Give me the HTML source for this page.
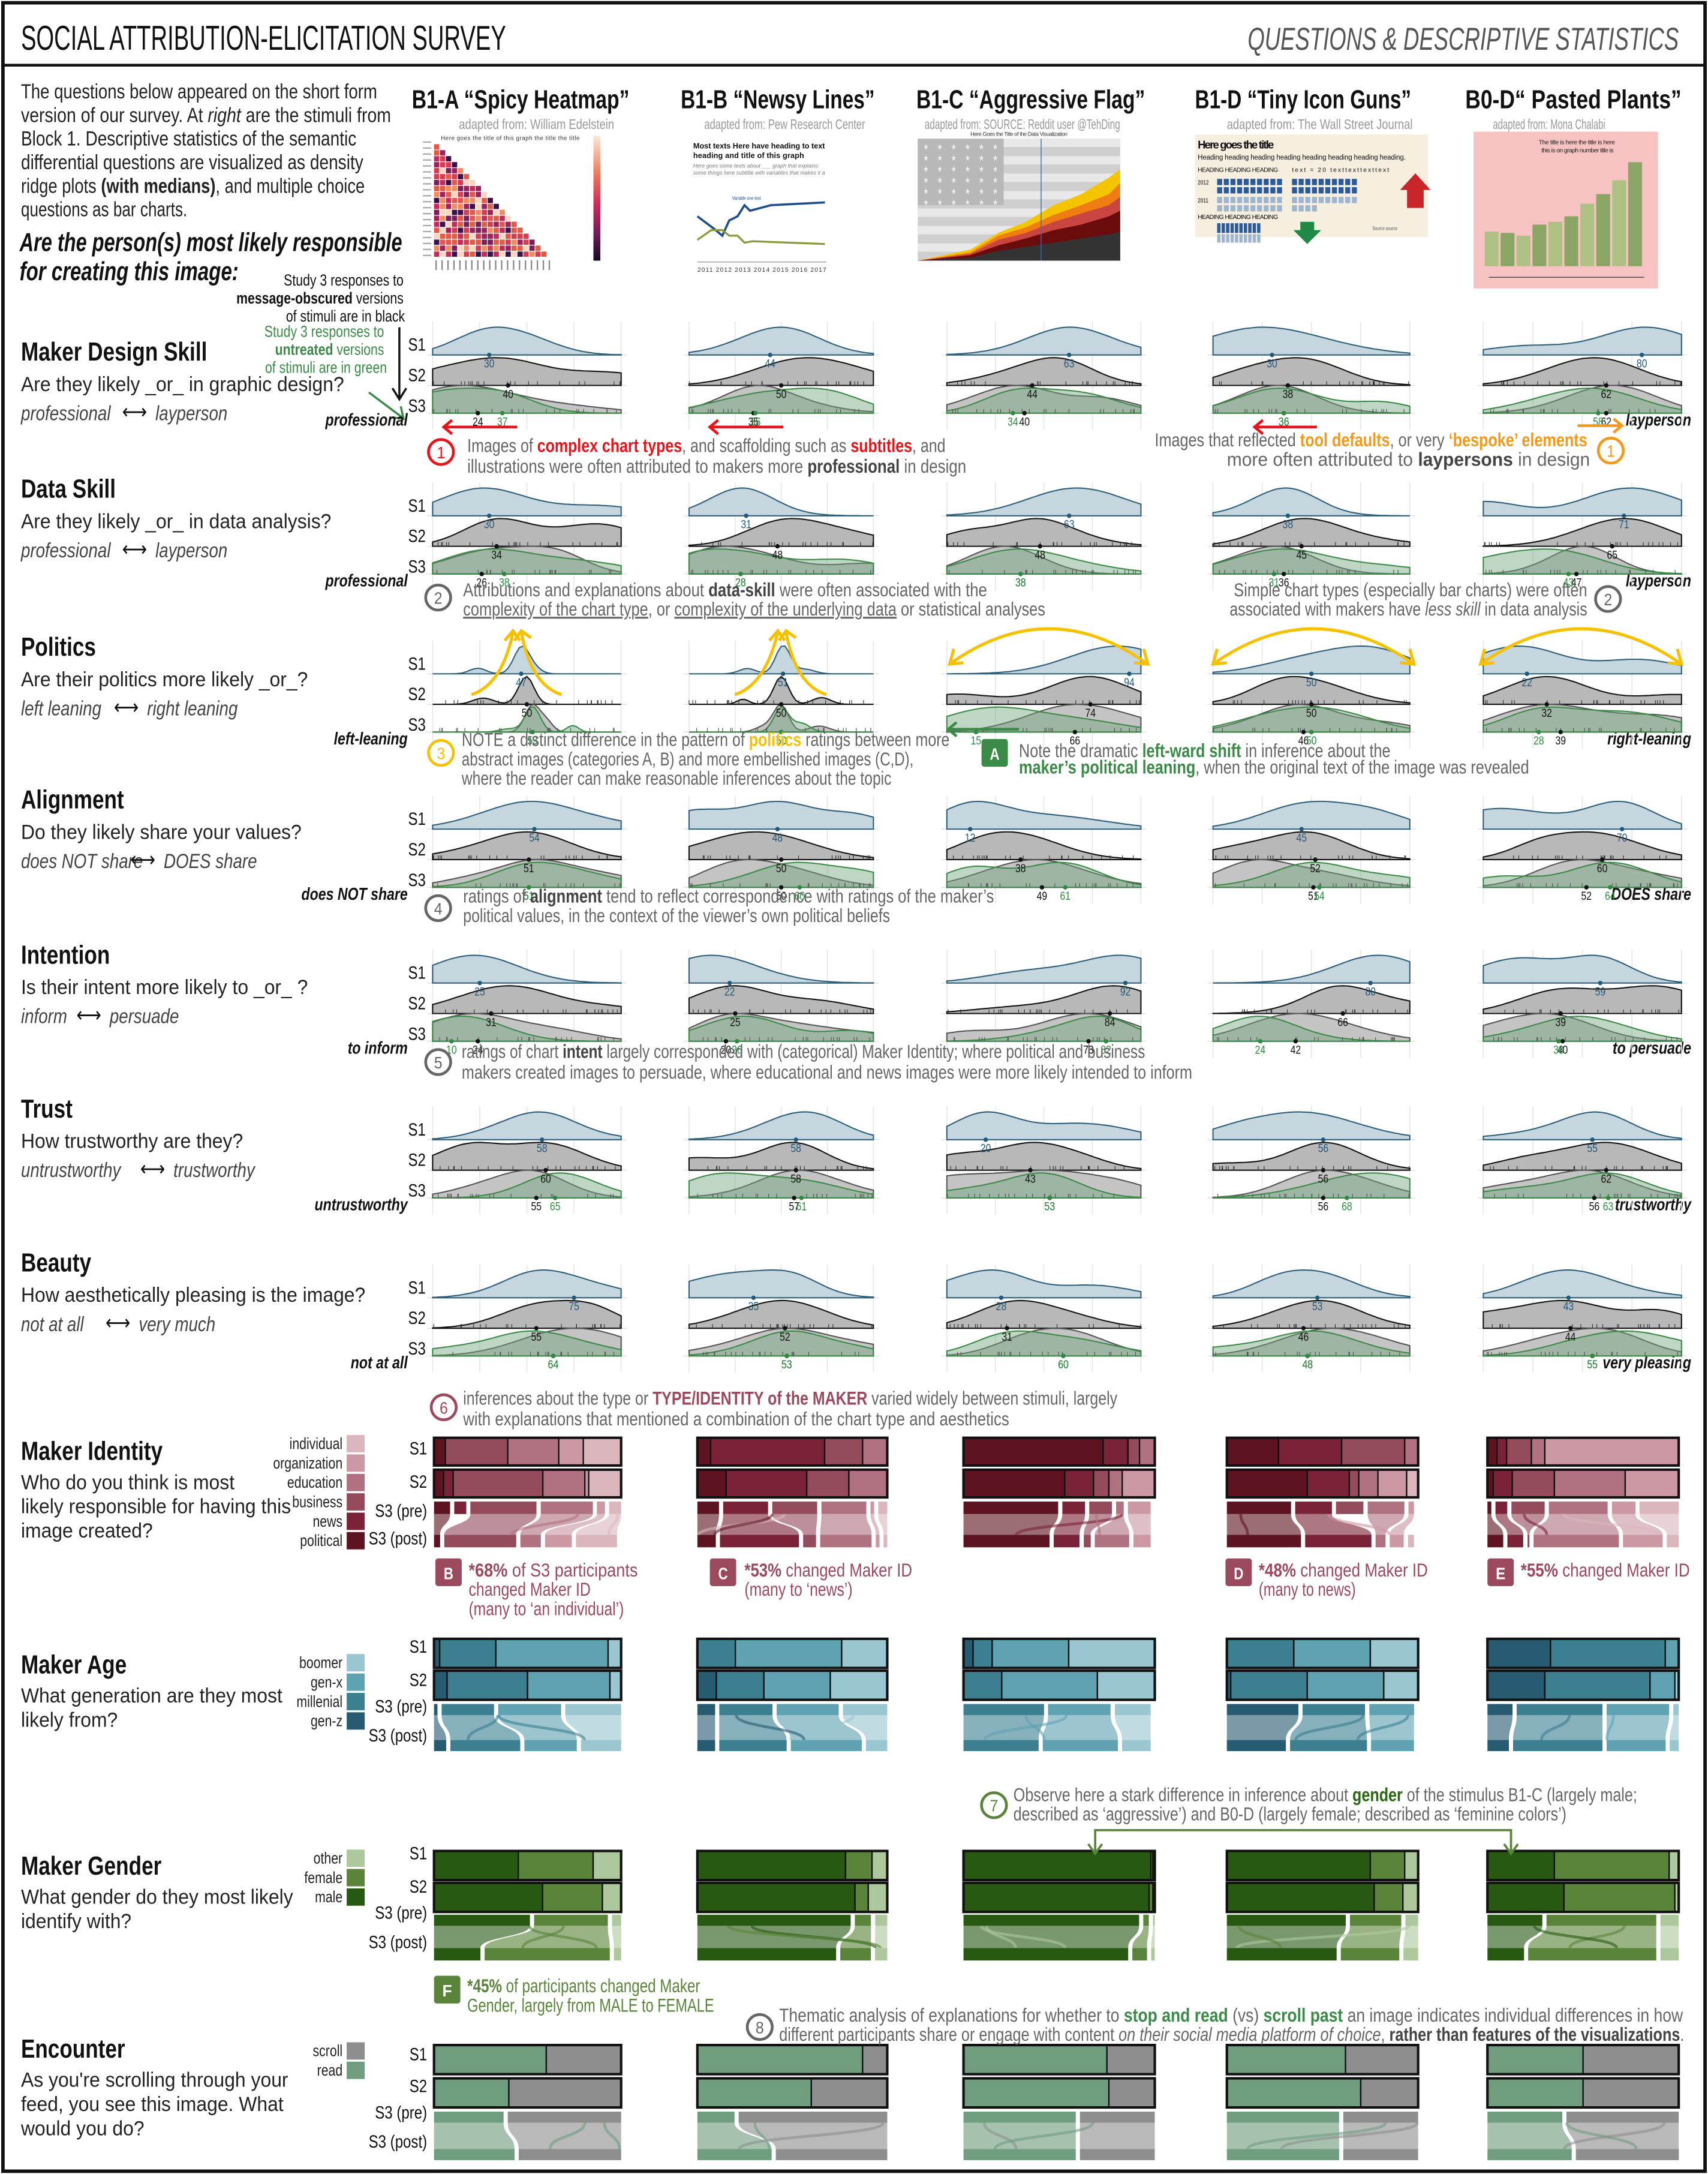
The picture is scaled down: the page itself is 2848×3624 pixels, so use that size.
<!DOCTYPE html>
<html><head><meta charset="utf-8">
<style>
html,body{margin:0;padding:0;background:#fff;}
svg{display:block;}
text{font-family:"Liberation Sans Narrow","Liberation Sans","DejaVu Sans Condensed",sans-serif;}
</style></head>
<body>
<svg id="s" xmlns="http://www.w3.org/2000/svg" width="2848" height="3624" viewBox="0 0 1232 1568">
<rect x="0" y="0" width="1232" height="1568" fill="#fff"/>
<rect x="2" y="2" width="1228" height="1564" fill="none" stroke="#111" stroke-width="2.5"/>
<line x1="2" y1="47" x2="1230" y2="47" stroke="#111" stroke-width="2"/>
<text x="15" y="36" font-size="25" fill="#111" textLength="350" lengthAdjust="spacingAndGlyphs">SOCIAL ATTRIBUTION-ELICITATION SURVEY</text>
<text x="900" y="36" font-size="23" font-style="italic" fill="#555" textLength="311" lengthAdjust="spacingAndGlyphs">QUESTIONS &amp; DESCRIPTIVE STATISTICS</text>

<g font-size="15" fill="#222">
<text x="15" y="71" textLength="257" lengthAdjust="spacingAndGlyphs">The questions below appeared on the short form</text>
<text x="15" y="88" textLength="267" lengthAdjust="spacingAndGlyphs">version of our survey.  At <tspan font-style="italic">right</tspan> are the stimuli from</text>
<text x="15" y="105" textLength="242" lengthAdjust="spacingAndGlyphs">Block 1.  Descriptive statistics of the semantic</text>
<text x="15" y="122" textLength="247" lengthAdjust="spacingAndGlyphs">differential questions are visualized as density</text>
<text x="15" y="139" textLength="248" lengthAdjust="spacingAndGlyphs">ridge plots <tspan font-weight="bold">(with medians)</tspan>, and multiple choice</text>
<text x="15" y="156" textLength="120" lengthAdjust="spacingAndGlyphs">questions as bar charts.</text>
</g>
<g font-size="19" font-weight="bold" font-style="italic" fill="#111">
<text x="14" y="181" textLength="276" lengthAdjust="spacingAndGlyphs">Are the person(s) most likely responsible</text>
<text x="14" y="202" textLength="158" lengthAdjust="spacingAndGlyphs">for creating this image:</text>
</g>

<g font-size="19" font-weight="bold" fill="#111">
<text x="297" y="78" textLength="157" lengthAdjust="spacingAndGlyphs">B1-A “Spicy Heatmap”</text>
<text x="491" y="78" textLength="140" lengthAdjust="spacingAndGlyphs">B1-B “Newsy Lines”</text>
<text x="661" y="78" textLength="165" lengthAdjust="spacingAndGlyphs">B1-C “Aggressive Flag”</text>
<text x="862" y="78" textLength="156" lengthAdjust="spacingAndGlyphs">B1-D “Tiny Icon Guns”</text>
<text x="1057" y="78" textLength="156" lengthAdjust="spacingAndGlyphs">B0-D“ Pasted Plants”</text>
</g>
<g font-size="10" fill="#999">
<text x="331" y="93" textLength="112" lengthAdjust="spacingAndGlyphs">adapted from: William Edelstein</text>
<text x="508" y="93" textLength="116" lengthAdjust="spacingAndGlyphs">adapted from: Pew Research Center</text>
<text x="667" y="93" textLength="141" lengthAdjust="spacingAndGlyphs">adapted from: SOURCE: Reddit user @TehDing</text>
<text x="885" y="93" textLength="134" lengthAdjust="spacingAndGlyphs">adapted from: The Wall Street Journal</text>
<text x="1077" y="93" textLength="81" lengthAdjust="spacingAndGlyphs">adapted from: Mona Chalabi</text>
</g>

<g id="thumbs"></g>

<g font-size="11.5" fill="#111" text-anchor="end">
<text x="291" y="206">Study 3 responses to</text>
<text x="291" y="219"><tspan font-weight="bold">message-obscured</tspan> versions</text>
<text x="292" y="232">of stimuli are in black</text>
</g>
<g font-size="11.5" fill="#3b8a47" text-anchor="end">
<text x="277" y="243">Study 3 responses to</text>
<text x="277" y="256"><tspan font-weight="bold">untreated</tspan> versions</text>
<text x="279" y="269">of stimuli are in green</text>
</g>
<path d="M288,236 V287 M283,280 L288,288 L293,280" stroke="#111" stroke-width="1.5" fill="none"/>
<path d="M266,283 L290,301 M282,301 L291,302 L289,293" stroke="#3b8a47" stroke-width="1.5" fill="none"/>

<g id="sections"></g>
<g id="ridges"></g>
<g id="bars"></g>
<g id="annot"></g>
</svg>
<script>
(function(){
function add(id,html){document.getElementById(id).insertAdjacentHTML('beforeend',html);}
var seed=7;function rnd(){seed=(seed*16807)%2147483647;return (seed-1)/2147483646;}
var th='';
var pal=['#e8534a','#c42a5b','#a01f5d','#f28a5b','#3b0f4a','#f7d5bf','#d83b50','#7a1d5a','#e35a45'];
th+='<text x="318" y="101" font-size="4.2" fill="#333" textLength="100">Here goes the title of this graph the title the title</text>';
var cs=4.3,ox=313,oy=104;
for(var r=0;r<19;r++){for(var c=0;c<=r;c++){th+='<rect x="'+(ox+c*cs)+'" y="'+(oy+r*cs)+'" width="'+(cs-0.5)+'" height="'+(cs-0.5)+'" fill="'+pal[Math.floor(rnd()*pal.length)]+'"/>';}}
th+='<defs><linearGradient id="cb" x1="0" y1="0" x2="0" y2="1"><stop offset="0" stop-color="#fae8dc"/><stop offset=".3" stop-color="#f07a55"/><stop offset=".55" stop-color="#cf2a5a"/><stop offset=".8" stop-color="#6b1a5c"/><stop offset="1" stop-color="#120a1e"/></linearGradient></defs>';
th+='<rect x="428" y="98" width="5" height="90" fill="url(#cb)"/>';
for(var i=0;i<20;i++){th+='<rect x="'+(ox+i*cs+1)+'" y="'+(oy+19*cs+2)+'" width="1" height="7" fill="#888"/>';th+='<rect x="'+(ox-8)+'" y="'+(oy-3+i*cs+1)+'" width="6" height="1" fill="#aaa"/>';}
th+='<text x="500" y="107" font-size="5.5" font-weight="bold" fill="#111" textLength="95">Most texts Here have heading to text</text><text x="500" y="114" font-size="5.5" font-weight="bold" fill="#111" textLength="80">heading and title of this graph</text>';
th+='<text x="500" y="121" font-size="3.8" font-style="italic" fill="#777" textLength="90">Here goes some texts about ___ graph that explains</text><text x="500" y="126" font-size="3.8" font-style="italic" fill="#777" textLength="95">some things here subtitle with variables that makes it a</text>';
th+='<text x="528" y="144" font-size="3.5" fill="#1f4e8a">Variable one text</text>';
th+='<polyline points="503,156 515,165 521,170 526,159 532,156 537,148 541,152 556,148 595,146" fill="none" stroke="#1f4e8a" stroke-width="1.6"/>';
th+='<polyline points="503,173 513,166 521,166 526,170 532,170 537,175 543,174 595,176" fill="none" stroke="#8a9a3b" stroke-width="1.4"/>';
th+='<line x1="503" y1="189" x2="596" y2="189" stroke="#999" stroke-width=".6"/>';
th+='<text x="503" y="196" font-size="4.5" fill="#333" textLength="93">2011 2012 2013 2014 2015 2016 2017</text>';
th+='<rect x="662" y="100" width="146" height="88" fill="#cfcfcf"/>';
for(var i=0;i<7;i++){th+='<rect x="662" y="'+(100+i*12.6)+'" width="146" height="6" fill="#e8e8e8"/>';}
th+='<rect x="662" y="100" width="62" height="48" fill="#b8b8b8"/>';
for(var r=0;r<6;r++)for(var c=0;c<6;c++)th+='<text x="'+(666+c*10)+'" y="'+(108+r*8)+'" font-size="6" fill="#eee">★</text>';
th+='<path d="M662,188 L700,180 L720,168 L740,160 L760,148 L780,140 L800,128 L808,122 L808,188Z" fill="#f5c400"/>';
th+='<path d="M662,188 L700,182 L720,170 L740,164 L760,155 L780,148 L800,140 L808,132 L808,188Z" fill="#ef7d14"/>';
th+='<path d="M662,188 L700,183 L720,173 L740,168 L760,160 L780,154 L800,148 L808,142 L808,188Z" fill="#c9453f"/>';
th+='<path d="M662,188 L700,184 L720,177 L740,172 L760,166 L780,162 L800,156 L808,152 L808,188Z" fill="#6b0c0c"/>';
th+='<path d="M662,188 L700,186 L720,181 L740,178 L760,175 L780,172 L800,169 L808,167 L808,188Z" fill="#333"/>';
th+='<line x1="751" y1="100" x2="751" y2="188" stroke="#3a6ab0" stroke-width=".6"/>';
th+='<text x="700" y="98" font-size="4" fill="#333" textLength="70">Here Goes the Title of the Data Visualization</text>';
th+='<rect x="862" y="97" width="168" height="74" fill="#f6efe0"/>';
th+='<text x="864" y="107" font-size="8" font-weight="bold" fill="#111" textLength="55">Here goes the title</text>';
th+='<text x="864" y="115" font-size="5" fill="#111" textLength="150">Heading heading heading heading heading heading heading heading.</text>';
th+='<text x="864" y="124" font-size="4.5" fill="#111" textLength="58">HEADING HEADING HEADING</text><text x="932" y="124" font-size="4.5" fill="#111" textLength="70">text    = 20 texttexttexttext</text>';
for(var k=0;k<4;k++){var yy=[129,135,142,148][k];var col=k<2?'#2a5a9a':'#9eb5cf';for(var j=0;j<10;j++){th+='<rect x="'+(878+j*4.8)+'" y="'+yy+'" width="3.6" height="4.5" fill="'+col+'"/>';if(!(k==3&&j>3))th+='<rect x="'+(932+j*4.8)+'" y="'+yy+'" width="3.6" height="4.5" fill="'+col+'"/>';}}
th+='<text x="864" y="133" font-size="4.5">2012</text><text x="864" y="146" font-size="4.5">2011</text>';
th+='<path d="M1015,150 V137 H1010 L1021,125 L1032,137 H1027 V150Z" fill="#c8262a"/>';
th+='<text x="864" y="158" font-size="4.5" textLength="58">HEADING HEADING HEADING</text>';
for(var j=0;j<10;j++){th+='<rect x="'+(878+j*3.2)+'" y="161" width="2.4" height="7" fill="#2a5a9a"/>';th+='<rect x="'+(878+j*3.2)+'" y="169" width="2.4" height="6" fill="#9eb5cf"/>';}
th+='<path d="M938,160 V166 H933 L943,176 L953,166 H948 V160Z" fill="#1f8a45"/>';
th+='<text x="990" y="166" font-size="3.5" fill="#555">Source source</text>';
th+='<rect x="1063" y="95" width="133" height="113" fill="#f6c2c2"/>';
th+='<text x="1110" y="104" font-size="4.5" fill="#222" textLength="55">The title is here the title is here</text><text x="1112" y="110" font-size="4.5" fill="#222" textLength="52">this is on graph number title is</text>';
var hs=[25,24,22,30,32,36,45,52,62,75];
for(var i=0;i<10;i++){var h=hs[i];th+='<rect x="'+(1071+i*11.5)+'" y="'+(192-h)+'" width="10" height="'+h+'" fill="'+(i%2?'#7ea25a':'#a6c17c')+'" opacity=".9"/>';}
th+='<line x1="1074" y1="200" x2="1186" y2="200" stroke="#333" stroke-width=".5"/>';
add('thumbs',th);

var F='';
function secTitle(y,t,q,pair){
 var s='<text x="15" y="'+y+'" font-size="19" font-weight="bold" fill="#111">'+t+'</text>';
 s+='<text class="q" x="15" y="'+(y+22)+'" font-size="15" fill="#222">'+q+'</text>';
 s+='<text x="15" y="'+(y+43)+'" font-size="15" font-style="italic" fill="#444">'+pair[0]+'</text>';
 s+='<text x="'+(15+pair[2])+'" y="'+(y+42)+'" font-size="15" fill="#111" textLength="18" lengthAdjust="spacingAndGlyphs">⟷</text>';
 s+='<text x="'+(15+pair[2]+24)+'" y="'+(y+43)+'" font-size="15" font-style="italic" fill="#444">'+pair[1]+'</text>';
 return s;}
var secs=[
 [260,'Maker Design Skill','Are they likely _or_ in graphic design?',['professional','layperson',73],307,'professional','layperson'],
 [359,'Data Skill','Are they likely _or_  in data analysis?',['professional','layperson',73],423,'professional','layperson'],
 [473,'Politics','Are their politics more likely _or_?',['left leaning','right leaning',67],537,'left-leaning','right-leaning'],
 [583,'Alignment','Do they likely share your values?',['does NOT share','DOES share',79],649,'does NOT share','DOES share'],
 [695,'Intention','Is their intent more likely to _or_ ?',['inform','persuade',40],760,'to inform','to persuade'],
 [806,'Trust','How trustworthy are they?',['untrustworthy','trustworthy',86],873,'untrustworthy','trustworthy'],
 [917,'Beauty','How aesthetically pleasing is the image?',['not at all','very much',61],987,'not at all','very pleasing']];
secs.forEach(function(s){F+=secTitle(s[0],s[1],s[2],s[3]);
 F+='<text x="294" y="'+s[4]+'" text-anchor="end" font-size="12.5" font-weight="bold" font-style="italic" fill="#111">'+s[5]+'</text>';
 F+='<text x="1220" y="'+s[4]+'" text-anchor="end" font-size="12.5" font-weight="bold" font-style="italic" fill="#111">'+s[6]+'</text>';
});
function bt(y,t,lines){var s='<text x="15" y="'+y+'" font-size="19" font-weight="bold" fill="#111">'+t+'</text>';lines.forEach(function(l,i){s+='<text class="q" x="15" y="'+(y+21+i*17.5)+'" font-size="15" fill="#222">'+l+'</text>';});return s;}
F+=bt(1053,'Maker Identity',['Who do you think is most','likely responsible for having this','image created?']);
F+=bt(1207,'Maker Age',['What generation are they most','likely from?']);
F+=bt(1352,'Maker Gender',['What gender do they most likely','identify with?']);
F+=bt(1484,'Encounter',["As you're scrolling through your",'feed, you see this image.  What','would you do?']);
add('sections',F);

var cols=[[312,448],[497,630],[683,823],[875,1017],[1070,1213]];
var med={
0:[[30,40,24,37],[44,50,35,36],[63,44,40,34],[30,38,36,36],[80,62,62,58]],
1:[[30,34,26,38],[31,48,28,28],[63,48,38,38],[38,45,36,31],[71,65,47,43]],
2:[[47,50,53,53],[51,50,50,50],[94,74,66,15],[50,50,46,50],[22,32,39,28]],
3:[[54,51,51,51],[48,50,50,60],[12,38,49,61],[45,52,51,54],[70,60,52,64]],
4:[[25,31,24,10],[22,25,20,26],[92,84,73,82],[80,66,42,24],[59,39,40,38]],
5:[[58,60,55,65],[58,58,57,61],[20,43,53,53],[56,56,56,68],[55,62,56,63]],
6:[[75,55,64,64],[35,52,53,53],[28,31,60,60],[53,46,48,48],[43,44,55,55]]};
var R='';
function dens(m,narrow){var comps=[[m,narrow?4:16+rnd()*10,1]];var n=2;for(var i=0;i<n;i++)comps.push([narrow?m+(rnd()-0.5)*50:rnd()*100,narrow?3+rnd()*3:14+rnd()*12,narrow?0.12+rnd()*0.15:0.3+rnd()*0.5]);
 var v=[];for(var x=0;x<=100;x+=2){var s=0;comps.forEach(function(c){s+=c[2]*Math.exp(-Math.pow((x-c[0])/c[1],2)/2);});v.push(s);}var mx=Math.max.apply(null,v);return v.map(function(a){return a/mx;});}
function ridge(x0,x1,yb,h,m,fill,stroke,op,narrow){var v=dens(m,narrow);var d='M'+x0+','+yb;v.forEach(function(a,i){d+=' L'+(x0+(x1-x0)*i/50).toFixed(1)+','+(yb-a*h).toFixed(1);});d+=' L'+x1+','+yb+'Z';return '<path d="'+d+'" fill="'+fill+'" fill-opacity="'+op+'" stroke="'+stroke+'" stroke-width="0.9"/>';}
for(var si=0;si<7;si++){var base=secs[si][4];var ys=[base-51,base-29,base-9];
 R+='<text x="307" y="'+(ys[0]-3)+'" text-anchor="end" font-size="13" fill="#111">S1</text>';
 R+='<text x="307" y="'+(ys[1]-3)+'" text-anchor="end" font-size="13" fill="#111">S2</text>';
 R+='<text x="307" y="'+(ys[2]-1)+'" text-anchor="end" font-size="13" fill="#111">S3</text>';
 for(var ci=0;ci<5;ci++){var x0=cols[ci][0],x1=cols[ci][1],w=x1-x0,M=med[si][ci];var narrow=(si==2&&ci<2);
  for(var g=0;g<=4;g++){var gx=x0+w*g/4;R+='<line x1="'+gx+'" y1="'+(ys[0]-24)+'" x2="'+gx+'" y2="'+(ys[2]+12)+'" stroke="#e6e6e6" stroke-width=".7"/>';}
  ys.forEach(function(y){R+='<line x1="'+(x0-4)+'" y1="'+y+'" x2="'+(x1+4)+'" y2="'+y+'" stroke="#e3e3e3" stroke-width=".7"/>';});
  R+=ridge(x0,x1,ys[0],20,M[0],'#c6d6df','#2e5f7a',1,narrow);
  R+=ridge(x0,x1,ys[1],20,M[1],'#b8b8b8','#111',1,narrow);
  R+=ridge(x0,x1,ys[2],20,M[2],'#c4c4c4','#555',1,narrow);
  R+=ridge(x0,x1,ys[2],18,M[3],'#6fa37a','#3b8a47',.45,narrow);
  for(var k=0;k<22;k++){var rx=x0+w*rnd();R+='<line x1="'+rx.toFixed(1)+'" y1="'+ys[1]+'" x2="'+rx.toFixed(1)+'" y2="'+(ys[1]-3)+'" stroke="#333" stroke-width=".5"/>';var rx2=x0+w*rnd();R+='<line x1="'+rx2.toFixed(1)+'" y1="'+ys[2]+'" x2="'+rx2.toFixed(1)+'" y2="'+(ys[2]-3)+'" stroke="#555" stroke-width=".5"/>';}
  function dot(v,y,col,dy){var px=x0+w*v/100;return '<circle cx="'+px.toFixed(1)+'" cy="'+y+'" r="1.6" fill="'+col+'"/><text x="'+px.toFixed(1)+'" y="'+(y+dy)+'" text-anchor="middle" font-size="8.5" fill="'+col+'">'+v+'</text>';}
  R+=dot(M[0],ys[0],'#1f5a7a',9);R+=dot(M[1],ys[1],'#111',9);
  R+=dot(M[2],ys[2],'#111',9);R+=dot(M[3],ys[2],'#2e8a40',9);
 }}
add('ridges',R);

var B='';
var bx=[[313,448],[503,640],[695,833],[885,1023],[1073,1211]];
function legend(items,y0,sz){var s='';items.forEach(function(it,i){var y=y0+i*sz;s+='<rect x="250" y="'+y+'" width="13" height="'+(sz-1.5)+'" fill="'+it[1]+'"/><text x="247" y="'+(y+sz*0.72)+'" text-anchor="end" font-size="11.5" fill="#222">'+it[0]+'</text>';});return s;}
function rowlabels(ys){var n=['S1','S2','S3 (pre)','S3 (post)'];var s='';ys.forEach(function(y,i){s+='<text x="308" y="'+y+'" text-anchor="end" font-size="13" fill="#111">'+n[i]+'</text>';});return s;}
function sbar(x0,x1,y,h,fr,colr){var w=x1-x0,s='',x=x0;var tot=fr.reduce(function(a,b){return a+b;},0);fr.forEach(function(f,i){var ww=w*f/tot;if(ww<=0)return;s+='<rect x="'+x.toFixed(1)+'" y="'+y+'" width="'+ww.toFixed(1)+'" height="'+h+'" fill="'+colr[i]+'" stroke="#111" stroke-width="1"/>';x+=ww;});s+='<rect x="'+x0+'" y="'+y+'" width="'+w+'" height="'+h+'" fill="none" stroke="#111" stroke-width="1.8"/>';return s;}
function flow(x0,x1,y1,h1,y2,h2,pre,post,colr){var w=x1-x0,s='',gap=3;var n=pre.length;var tp=pre.reduce(function(a,b){return a+b;},0),tq=post.reduce(function(a,b){return a+b;},0);
 var avail=w-gap*(n-1);var xa=x0,xb=x0;var A=[],Bq=[];
 for(var i=0;i<n;i++){var wa=avail*pre[i]/tp,wb=avail*post[i]/tq;A.push([xa,wa]);Bq.push([xb,wb]);xa+=wa+(wa>0?gap:0);xb+=wb+(wb>0?gap:0);}
 var fy1=y1+h1,fy2=y2;
 for(var i=0;i<n;i++){if(A[i][1]<=0||Bq[i][1]<=0)continue;var a0=A[i][0],a1=a0+A[i][1],b0=Bq[i][0],b1=b0+Bq[i][1],my=(fy1+fy2)/2;
  s+='<path d="M'+a0.toFixed(1)+','+fy1+' C'+a0.toFixed(1)+','+my+' '+b0.toFixed(1)+','+my+' '+b0.toFixed(1)+','+fy2+' L'+b1.toFixed(1)+','+fy2+' C'+b1.toFixed(1)+','+my+' '+a1.toFixed(1)+','+my+' '+a1.toFixed(1)+','+fy1+'Z" fill="'+colr[i]+'" fill-opacity=".62"/>';}
 for(var k=0;k<2;k++){var p=x0+w*rnd(),q=x0+w*rnd(),my=(fy1+fy2)/2;s+='<path d="M'+p.toFixed(1)+','+fy1+' C'+p.toFixed(1)+','+my+' '+q.toFixed(1)+','+my+' '+q.toFixed(1)+','+fy2+'" stroke="'+colr[Math.floor(rnd()*n)]+'" stroke-opacity=".6" stroke-width="2" fill="none"/>';}
 for(var i=0;i<n;i++){if(A[i][1]>0)s+='<rect x="'+A[i][0].toFixed(1)+'" y="'+y1+'" width="'+A[i][1].toFixed(1)+'" height="'+h1+'" fill="'+colr[i]+'"/>';if(Bq[i][1]>0)s+='<rect x="'+Bq[i][0].toFixed(1)+'" y="'+y2+'" width="'+Bq[i][1].toFixed(1)+'" height="'+h2+'" fill="'+colr[i]+'"/>';}
 return s;}
function block(ys,colr,data){var s='';for(var c=0;c<5;c++){var d=data[c],x0=bx[c][0],x1=bx[c][1];
 s+=sbar(x0,x1,ys[0],ys[1],d[0],colr);s+=sbar(x0,x1,ys[2],ys[3],d[1],colr);s+=flow(x0,x1,ys[4],ys[5],ys[6],ys[7],d[2],d[3],colr);}return s;}
var idc=['#5e1420','#7a2338','#944b5c','#b07280','#cc98a3','#dbb7bd'];
B+=legend([['individual',idc[5]],['organization',idc[4]],['education',idc[3]],['business',idc[2]],['news',idc[1]],['political',idc[0]]],1035,14);
B+=rowlabels([1049,1073,1094,1114]);
B+=block([1037,20,1060,20,1083,9,1107,9],idc,[
 [[0.06,0,0.33,0.27,0.13,0.2],[0.05,0.05,0.47,0.22,0.02,0.17],[0.08,0.06,0.33,0.26,0.04,0.06],[0.03,0,0.35,0.1,0.13,0.2]],
 [[0.07,0.6,0.2,0.13,0,0],[0.15,0.42,0.22,0.2,0,0],[0.12,0.25,0.25,0.25,0.02,0.05],[0.1,0.43,0.07,0.28,0.02,0.02]],
 [[0.73,0.13,0.06,0.08,0,0],[0.53,0.15,0.08,0.07,0.17,0],[0.5,0.12,0.12,0.04,0.12,0],[0.5,0.15,0.04,0.2,0.1,0]],
 [[0.27,0.33,0.33,0.07,0,0],[0.42,0.22,0.05,0.1,0.15,0.06],[0.35,0.2,0.15,0.2,0.03,0],[0.37,0.33,0,0.05,0.07,0.03]],
 [[0.05,0.05,0.13,0.07,0.7,0],[0.03,0.1,0.22,0.37,0.28,0],[0.02,0.06,0.17,0.3,0.12,0.2],[0.08,0.08,0.01,0.43,0.2,0.06]]]);
var agc=['#265b72','#3b7f91','#5fa2b2','#99c6d1'];
B+=legend([['boomer',agc[3]],['gen-x',agc[2]],['millenial',agc[1]],['gen-z',agc[0]]],1193,14);
B+=rowlabels([1192,1216,1235,1256]);
B+=block([1182,21,1205,21,1229,8,1255,8],agc,[
 [[0.03,0.3,0.6,0.07],[0.07,0.43,0.44,0.06],[0.02,0.3,0.36,0.32],[0.07,0.4,0.3,0.23]],
 [[0,0.2,0.56,0.24],[0.1,0.25,0.35,0.3],[0.1,0.3,0.35,0.25],[0.1,0.38,0.4,0.12]],
 [[0.05,0.1,0.4,0.45],[0,0.2,0.5,0.3],[0,0.45,0.35,0.2],[0,0.42,0.42,0.16]],
 [[0,0.35,0.4,0.25],[0.02,0.4,0.4,0.18],[0.4,0.35,0.25,0],[0.33,0.43,0.24,0]],
 [[0.33,0.6,0.07,0],[0.3,0.55,0.13,0.02],[0.14,0.48,0.35,0.03],[0.12,0.5,0.33,0.05]]]);
var gec=['#275913','#5a843a','#adc89d'];
B+=legend([['other',gec[2]],['female',gec[1]],['male',gec[0]]],1334,14);
B+=rowlabels([1341,1365,1384,1405]);
B+=block([1335,21,1358,21,1381,8,1405,9],gec,[
 [[0.45,0.4,0.15],[0.58,0.32,0.1],[0.52,0.4,0.05],[0.26,0.7,0.04]],
 [[0.78,0.14,0.08],[0.83,0.07,0.1],[0.76,0.08,0.06],[0.68,0.15,0.06]],
 [[0.98,0.01,0.01],[0.97,0.02,0.01],[0.96,0.03,0.01],[0.9,0.08,0.02]],
 [[0.75,0.18,0.07],[0.77,0.15,0.08],[0.65,0.28,0.07],[0.6,0.32,0.08]],
 [[0.35,0.6,0.05],[0.4,0.58,0.02],[0.3,0.6,0.1],[0.2,0.7,0.1]]]);
var enc=['#6f9d7e','#8e8e8e'];
B+=legend([['scroll',enc[1]],['read',enc[0]]],1473,14);
B+=rowlabels([1486,1509,1528,1549]);
B+=block([1475,21,1499,21,1523,8,1550,8],enc,[
 [[0.6,0.4],[0.4,0.6],[0.38,0.62],[0.44,0.56]],
 [[0.87,0.13],[0.6,0.4],[0.2,0.8],[0.4,0.6]],
 [[0.75,0.25],[0.76,0.24],[0.6,0.4],[0.6,0.4]],
 [[0.62,0.38],[0.7,0.3],[0.6,0.4],[0.6,0.4]],
 [[0.5,0.5],[0.5,0.5],[0.4,0.6],[0.45,0.55]]]);
add('bars',B);

var N='';
var G='#666';
function circ(cx,cy,col,t){return '<circle cx="'+cx+'" cy="'+cy+'" r="9" fill="#fff" stroke="'+col+'" stroke-width="2"/><text x="'+cx+'" y="'+(cy+4.5)+'" text-anchor="middle" font-size="12" fill="'+col+'" textLength="6" lengthAdjust="spacingAndGlyphs">'+t+'</text>';}
function box(x,y,col,t){return '<rect x="'+x+'" y="'+y+'" width="19" height="20" rx="2" fill="'+col+'"/><text x="'+(x+9.5)+'" y="'+(y+15)+'" text-anchor="middle" font-size="12" font-weight="bold" fill="#fff" textLength="7" lengthAdjust="spacingAndGlyphs">'+t+'</text>';}
function tx(x,y,html,col,len,anchor){return '<text x="'+x+'" y="'+y+'" font-size="13.5" fill="'+(col||G)+'"'+(len?' textLength="'+len+'" lengthAdjust="spacingAndGlyphs"':'')+(anchor?' text-anchor="'+anchor+'"':'')+'>'+html+'</text>';}
function arrowH(x1,x2,y,col){var d=x2<x1?1:-1;return '<path d="M'+x1+','+y+' H'+x2+' M'+(x2+6*d)+','+(y-5)+' L'+x2+','+y+' L'+(x2+6*d)+','+(y+5)+'" stroke="'+col+'" stroke-width="2" fill="none"/>';}
var RED='#e8131b',OR='#f39a1b',YE='#f5c100',GR='#3b8a47',MA='#9b4a5e';
N+=arrowH(373,320,308,RED)+arrowH(565,512,308,RED)+arrowH(950,905,308,RED)+arrowH(1138,1170,307,OR);
N+=circ(318,326,RED,'1');
N+=tx(337,326,'Images of <tspan fill="'+RED+'" font-weight="bold">complex chart types</tspan>,  and scaffolding such as <tspan fill="'+RED+'" font-weight="bold">subtitles</tspan>, and',G,345);
N+=tx(337,341,'illustrations were often attributed to makers more <tspan fill="#444" font-weight="bold">professional</tspan> in design',G,360);
N+=tx(1145,322,'Images that reflected <tspan fill="'+OR+'" font-weight="bold">tool defaults</tspan>, or very <tspan fill="'+OR+'" font-weight="bold">‘bespoke’ elements</tspan>',G,312,'end');
N+=tx(1147,336,'more often attributed to <tspan fill="#444" font-weight="bold">laypersons</tspan> in design',G,262,'end');
N+=circ(1162,325,OR,'1');
N+=circ(316,431,'#666','2');
N+=tx(334,430,'Attributions and explanations about  <tspan fill="#444" font-weight="bold">data-skill</tspan> were often associated with the',G,378);
N+=tx(334,444,'<tspan text-decoration="underline">complexity of the chart type</tspan>, or <tspan text-decoration="underline">complexity of the underlying data</tspan> or statistical analyses',G,420);
N+=tx(1145,430,'Simple chart types (especially bar charts) were often',G,255,'end');
N+=tx(1145,444,'associated with makers have <tspan font-style="italic">less skill</tspan> in data analysis',G,258,'end');
N+=circ(1160,432,'#666','2');
function yarr(d,ends){var s='<path d="'+d+'" stroke="'+YE+'" stroke-width="2.2" fill="none"/>';ends.forEach(function(e){s+='<path d="'+e+'" stroke="'+YE+'" stroke-width="2.2" fill="none"/>';});return s;}
N+=yarr('M340,501 Q362,494 370,456',['M364,462 L370,455 L375,462']);
N+=yarr('M405,501 Q383,494 376,456',['M371,462 L376,455 L383,460']);
N+=yarr('M530,501 Q552,494 561,456',['M555,462 L561,455 L566,462']);
N+=yarr('M596,501 Q574,494 567,456',['M562,462 L567,455 L574,460']);
[[685,828],[875,1020],[1068,1213]].forEach(function(p){var a=p[0],b=p[1],m=(a+b)/2;N+=yarr('M'+a+',479 Q'+m+',428 '+b+',479',['M'+(a+3)+',468 L'+a+',479 L'+(a+10)+',478','M'+(b-3)+',468 L'+b+',479 L'+(b-10)+',478']);});
N+=circ(318,543,YE,'3');
N+=tx(333,538,'NOTE a distinct difference in the pattern of <tspan fill="'+YE+'" font-weight="bold">politics</tspan> ratings between more',G,352);
N+=tx(333,552,'abstract images (categories A, B) and more embellished images (C,D),',G,326);
N+=tx(333,566,'where the reader can make reasonable inferences about the topic',G,310);
N+=arrowH(735,684,526,GR);
N+=box(708,533,GR,'A');
N+=tx(735,546,'Note the dramatic <tspan fill="'+GR+'" font-weight="bold">left-ward shift</tspan> in inference about the',G,268);
N+=tx(735,558,'<tspan fill="'+GR+'" font-weight="bold">maker’s political leaning</tspan>, when the original text of the image was revealed',G,368);
N+=circ(316,655,'#666','4');
N+=tx(334,651,'ratings of <tspan fill="#444" font-weight="bold">alignment</tspan> tend to reflect correspondence with ratings of the maker’s',G,383);
N+=tx(334,665,'political values, in the context of the viewer’s own political beliefs',G,308);
N+=circ(316,766,'#666','5');
N+=tx(333,763,'ratings of chart <tspan fill="#444" font-weight="bold">intent</tspan> largely corresponded with (categorical) Maker Identity; where political and business',G,493);
N+=tx(333,778,'makers created images to persuade, where educational and news images were more likely intended to inform',G,527);
N+=circ(320,1015,MA,'6');
N+=tx(334,1013,'inferences about the type or <tspan fill="'+MA+'" font-weight="bold">TYPE/IDENTITY of the MAKER</tspan>  varied widely between stimuli, largely',G,472);
N+=tx(334,1028,'with explanations that mentioned a combination of the chart type and aesthetics',G,394);
N+=box(314,1124,MA,'B');
N+=tx(338,1137,'<tspan font-weight="bold">*68%</tspan> of S3 participants',MA,122);
N+=tx(338,1151,'changed Maker ID',MA,88);
N+=tx(338,1165,'(many to ‘an individual’)',MA,112);
N+=box(512,1124,MA,'C');
N+=tx(537,1137,'<tspan font-weight="bold">*53%</tspan> changed Maker ID',MA,121);
N+=tx(537,1151,'(many to ‘news’)',MA,78);
N+=box(884,1124,MA,'D');
N+=tx(908,1137,'<tspan font-weight="bold">*48%</tspan> changed Maker ID',MA,122);
N+=tx(908,1151,'(many to news)',MA,70);
N+=box(1073,1124,MA,'E');
N+=tx(1097,1137,'<tspan font-weight="bold">*55%</tspan> changed Maker ID',MA,122);
N+=circ(717,1302,'#5a843a','7');
N+=tx(731,1299,'Observe here a stark difference in inference about <tspan fill="#2a6614" font-weight="bold">gender</tspan> of the stimulus B1-C (largely male;',G,450);
N+=tx(731,1313,'described as ‘aggressive’) and B0-D (largely female; described as ‘feminine colors’)',G,399);
N+='<path d="M790,1336 V1320 H1090 V1336 M785,1330 L790,1337 L795,1330 M1085,1330 L1090,1337 L1095,1330" stroke="#5a843a" stroke-width="1.6" fill="none"/>';
N+=box(313,1425,'#5a843a','F');
N+=tx(337,1437,'<tspan font-weight="bold">*45%</tspan> of participants changed Maker','#5a843a',168);
N+=tx(337,1451,'Gender, largely from MALE to FEMALE','#5a843a',178);
N+=circ(548,1462,'#666','8');
N+=tx(562,1458,'Thematic analysis of explanations for whether to <tspan fill="'+GR+'" font-weight="bold">stop and read</tspan> (vs) <tspan fill="'+GR+'" font-weight="bold">scroll past</tspan> an image indicates individual differences in how',G,652);
N+=tx(562,1472,'different participants share or engage with content <tspan font-style="italic">on their social media platform of choice</tspan>, <tspan fill="#444" font-weight="bold">rather than features of the visualizations</tspan>.',G,653);
add('annot',N);

var all=document.querySelectorAll('#s text');
for(var i=0;i<all.length;i++){var t=all[i];if(t.hasAttribute('textLength'))continue;try{var L=t.getComputedTextLength();var f=t.getAttribute('class')=='q'?0.92:0.8;if(L>0){t.setAttribute('textLength',(L*f).toFixed(1));t.setAttribute('lengthAdjust','spacingAndGlyphs');}}catch(e){}}
})();
</script>
</body></html>
